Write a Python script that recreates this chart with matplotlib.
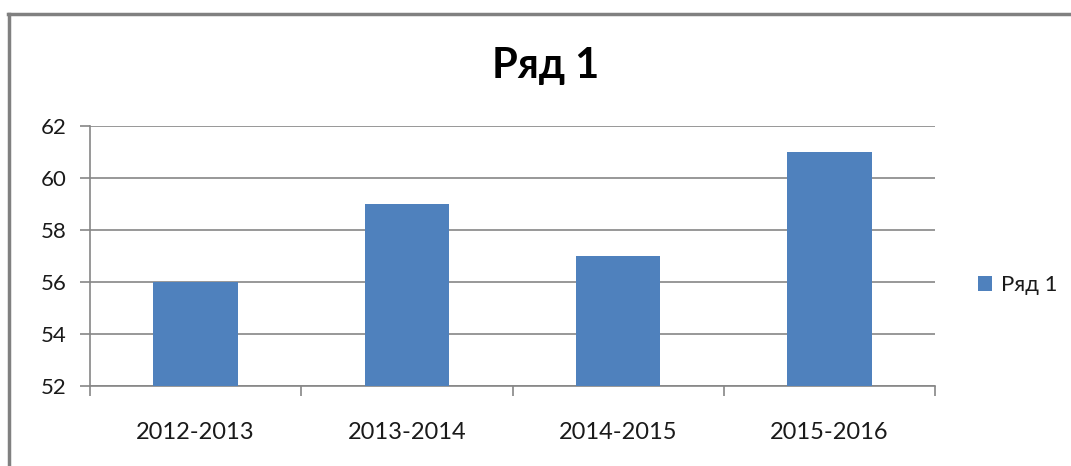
import matplotlib
matplotlib.use("Agg")
import matplotlib.pyplot as plt
from matplotlib.lines import Line2D
from matplotlib.patches import Patch

categories = ["2012-2013", "2013-2014", "2014-2015", "2015-2016"]
values = [56, 59, 57, 61]
series_name = "Ряд 1"
yticks = [52, 54, 56, 58, 60, 62]

plt.rcParams['font.family'] = ['Lato', 'DejaVu Sans']

fig = plt.figure(figsize=(10.71, 4.66), dpi=100)
ax = fig.add_axes([90/1071, 1-386/466, (935-90)/1071, (386-126)/466])

bar_color = "#4F81BD"
grid_color = "#868686"
text_color = "#1a1a1a"
x = list(range(len(categories)))
ax.bar(x, values, width=0.4, color=bar_color, zorder=3, bottom=0)
ax.set_xlim(-0.5, len(categories) - 0.5)
ax.set_ylim(52, 62)
ax.set_yticks(yticks)
ax.set_yticklabels([str(v) for v in yticks], fontsize=16, color=text_color)
ax.yaxis.grid(True, color=grid_color, linewidth=1.2, zorder=0)
ax.set_axisbelow(True)

ax.set_xticks(x)
ax.set_xticklabels(categories, fontsize=17, color=text_color)
ax.tick_params(axis='x', length=0, pad=26)
ax.set_xticks([i - 0.5 for i in range(len(categories) + 1)], minor=True)
ax.tick_params(axis='x', which='minor', length=7, color=grid_color, width=1.2)
ax.tick_params(axis='y', length=7, color=grid_color, width=1.2, pad=10)

for s in ['top', 'right']:
    ax.spines[s].set_visible(False)
ax.spines['left'].set_color(grid_color)
ax.spines['left'].set_linewidth(1.2)
ax.spines['bottom'].set_color(grid_color)
ax.spines['bottom'].set_linewidth(1.2)

fig.text(546/1071, 1-66/466, series_name, fontsize=30, fontweight='bold',
         ha='center', va='center', color="#000000")

ax.legend(handles=[Patch(facecolor=bar_color, label=series_name)],
          loc='center left', bbox_to_anchor=(958/1071, 1-285/466),
          bbox_transform=fig.transFigure, frameon=False, fontsize=16,
          handlelength=0.65, handleheight=0.65, handletextpad=0.4,
          labelcolor=text_color)

# outer border (top and left visible)
fig.add_artist(Line2D([8/1071, 1.0], [1-13.5/466, 1-13.5/466], transform=fig.transFigure,
                      color="#808080", linewidth=2.5))
fig.add_artist(Line2D([8.5/1071, 8.5/1071], [0, 1-13.5/466], transform=fig.transFigure,
                      color="#808080", linewidth=2.5))

fig.savefig("out.png", dpi=100)
